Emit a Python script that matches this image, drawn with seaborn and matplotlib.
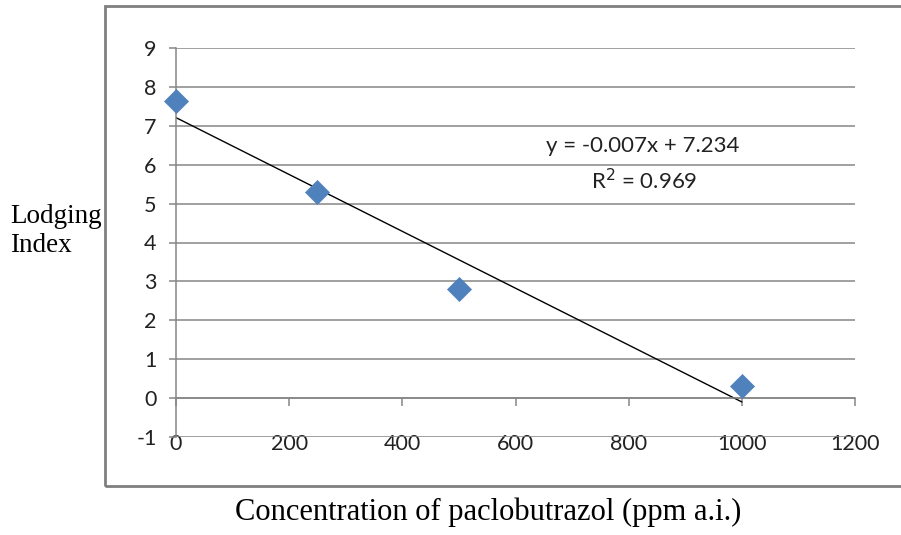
"""Índice de encamado frente a concentración de paclobutrazol, con recta de tendencia."""

import matplotlib.pyplot as plt
import numpy as np
import pandas as pd
import seaborn as sns
from matplotlib.patches import Rectangle

# Datos
concentracion = [0, 250, 500, 1000]
indice_encamado = [7.65, 5.3, 2.8, 0.3]
ticks_x = [0, 200, 400, 600, 800, 1000, 1200]
ticks_y = list(range(-1, 10))
ecuacion = "y = -0.007x + 7.234"
r_cuadrado = "R$^2$ = 0.969"

df = pd.DataFrame({"Concentracion": concentracion, "Indice": indice_encamado})

sns.set_theme(style="white")
plt.rcParams["font.family"] = ["Lato", "DejaVu Sans"]
plt.rcParams["axes.unicode_minus"] = False

fig = plt.figure(figsize=(9.01, 5.35), dpi=100)
ax = fig.add_axes([176 / 901, 1 - 437 / 535, (855 - 176) / 901, (437 - 48) / 535])

gris = "#868686"
ax.set_yticks(ticks_y)
ax.set_xticks(ticks_x)
ax.set_xlim(0, 1200)
ax.set_ylim(-1, 9)
ax.grid(axis="y", color=gris, linewidth=1.1)
ax.set_axisbelow(True)

# recta de tendencia calculada sobre los puntos
sns.regplot(
    data=df, x="Concentracion", y="Indice", ax=ax, ci=None, scatter=False,
    truncate=True, line_kws={"color": "black", "linewidth": 1.0},
)
sns.scatterplot(
    data=df, x="Concentracion", y="Indice", ax=ax, marker="D", s=150,
    color="#4F81BD", edgecolor="#4F81BD", linewidth=0.5, zorder=5,
    clip_on=False,
)

for lado in ["top", "right"]:
    ax.spines[lado].set_visible(False)
ax.spines["left"].set_color(gris)
ax.spines["left"].set_linewidth(1.1)
ax.spines["bottom"].set_position(("data", 0))
ax.spines["bottom"].set_color(gris)
ax.spines["bottom"].set_linewidth(1.1)

ax.tick_params(axis="x", direction="out", length=6, width=1.1, color=gris,
               pad=20, labelsize=15.5, labelcolor="#222222", bottom=True)
ax.tick_params(axis="y", direction="out", length=5, width=1.1, color=gris,
               pad=9, labelsize=15.5, labelcolor="#222222", left=True)
ax.set_xlabel("")
ax.set_ylabel("")

ax.text(825, 6.47, ecuacion, ha="center", va="center", fontsize=16, color="#222222")
ax.text(828, 5.6, r_cuadrado, ha="center", va="center", fontsize=16, color="#222222")

fig.text(10 / 901, 1 - 231 / 535, "Lodging\nIndex", ha="left", va="center",
         fontsize=19.5, family=["Liberation Serif", "DejaVu Serif"],
         linespacing=1.2, color="black")
fig.text(488 / 901, 1 - 512 / 535, "Concentration of paclobutrazol (ppm a.i.)",
         ha="center", va="center", fontsize=22,
         family=["Liberation Serif", "DejaVu Serif"], color="black")

fig.patches.append(Rectangle((105 / 901, 1 - 486 / 535), 820 / 901, 480 / 535,
                             transform=fig.transFigure, fill=False,
                             edgecolor="#7f7f7f", linewidth=2))

fig.savefig("out.png", dpi=100)
